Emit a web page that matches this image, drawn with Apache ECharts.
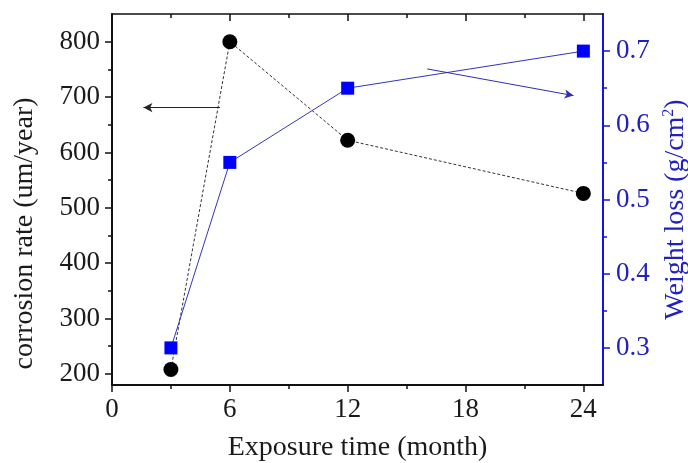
<!DOCTYPE html>
<html>
<head>
<meta charset="utf-8">
<script src="https://cdn.jsdelivr.net/npm/echarts@6/dist/echarts.min.js"></script>
<style>
  html, body { margin: 0; padding: 0; background: #fff; }
  #main { width: 688px; height: 463px; }
</style>
</head>
<body>
<div id="main"></div>
<script>
// exposure time (month)
var months = [3, 6, 12, 24];
// corrosion rate (um/year), left axis
var corrosionRate = [208, 800, 622, 526];
// weight loss (g/cm2), right axis
var weightLoss = [0.30, 0.55, 0.65, 0.70];

// tick values
var xMajor = [0, 6, 12, 18, 24];
var xMinor = [3, 9, 15, 21];
var leftMajor = [200, 300, 400, 500, 600, 700, 800];
var leftMinor = [250, 350, 450, 550, 650, 750];
var rightMajor = [0.3, 0.4, 0.5, 0.6, 0.7];
var rightMinor = [0.35, 0.45, 0.55, 0.65];

// annotation arrows (data coords)
var leftArrow = [[5.5, 681], [1.6, 681]];
var rightArrow = [[16.05, 0.676], [23.5, 0.640]];

var FONT = 'Liberation Serif';
var BLUE_AXIS = '#1414d8';
var BLUE_TEXT = '#2121bc';

function pairs(xs, ys) {
    return xs.map(function (x, i) { return [x, ys[i]]; });
}

function tickAxis(base, extra) {
    var o = {
        type: 'value', gridIndex: 0,
        axisLabel: { show: false },
        splitLine: { show: false },
        axisLine: { show: false, onZero: false }
    };
    for (var k in base) o[k] = base[k];
    for (var j in extra) o[j] = extra[j];
    return o;
}

var xBase = { min: 0, max: 25 };
var yLeftBase = { min: 180, max: 850 };
var yRightBase = { min: 0.25, max: 0.75 };

var option = {
    animation: false,
    backgroundColor: '#fff',
    grid: { left: 112, top: 14, right: 85, bottom: 78, outerBoundsMode: 'none', containLabel: false },
    xAxis: [
        {
            type: 'value', min: 0, max: 25, position: 'bottom',
            name: 'Exposure time (month)', nameLocation: 'middle', nameGap: 49,
            nameTextStyle: { fontFamily: FONT, fontSize: 28, color: '#1a1a1a' },
            axisLine: { show: true, onZero: false, lineStyle: { color: '#111', width: 2 } },
            axisTick: { show: true, inside: false, length: 7, customValues: xMajor, lineStyle: { color: '#111', width: 1.5 } },
            axisLabel: { customValues: xMajor, margin: 11, fontFamily: FONT, fontSize: 27, color: '#1a1a1a' },
            splitLine: { show: false }
        },
        tickAxis(xBase, { position: 'bottom', axisTick: { show: true, length: 4, customValues: xMinor, lineStyle: { color: '#111', width: 1.5 } } }),
        tickAxis(xBase, { position: 'top', axisLine: { show: true, onZero: false, lineStyle: { color: '#111', width: 1.5 } },
            axisTick: { show: true, inside: true, length: 7, customValues: xMajor, lineStyle: { color: '#111', width: 1.5 } } }),
        tickAxis(xBase, { position: 'top', axisTick: { show: true, inside: true, length: 4, customValues: xMinor, lineStyle: { color: '#111', width: 1.5 } } })
    ],
    yAxis: [
        {
            type: 'value', min: 180, max: 850, position: 'left',
            name: 'corrosion rate (um/year)', nameLocation: 'middle', nameGap: 73, nameRotate: 90,
            nameTextStyle: { fontFamily: FONT, fontSize: 28, color: '#1a1a1a', padding: [0, 68, 0, 0] },
            axisLine: { show: true, onZero: false, lineStyle: { color: '#111', width: 2 } },
            axisTick: { show: true, length: 7, customValues: leftMajor, lineStyle: { color: '#111', width: 1.5 } },
            axisLabel: { customValues: leftMajor, margin: 12, fontFamily: FONT, fontSize: 27, color: '#1a1a1a' },
            splitLine: { show: false }
        },
        {
            type: 'value', min: 0.25, max: 0.75, position: 'right',
            name: 'Weight loss (g/cm{sup|2})', nameLocation: 'middle', nameGap: 44, nameRotate: 90,
            nameTextStyle: {
                fontFamily: FONT, fontSize: 28, color: BLUE_TEXT, padding: [0, 20, 0, 0],
                rich: { sup: { fontFamily: FONT, fontSize: 16, color: BLUE_TEXT, verticalAlign: 'top', padding: [0, 0, 14, 0] } }
            },
            axisLine: { show: true, onZero: false, lineStyle: { color: BLUE_AXIS, width: 2 } },
            axisTick: { show: true, length: 7, customValues: rightMajor, lineStyle: { color: BLUE_AXIS, width: 1.5 } },
            axisLabel: {
                customValues: rightMajor, margin: 13, fontFamily: FONT, fontSize: 27, color: BLUE_TEXT,
                formatter: function (v) { return v.toFixed(1); }
            },
            splitLine: { show: false }
        },
        tickAxis(yLeftBase, { position: 'left', axisTick: { show: true, length: 4, customValues: leftMinor, lineStyle: { color: '#111', width: 1.5 } } }),
        tickAxis(yRightBase, { position: 'right', axisTick: { show: true, length: 4, customValues: rightMinor, lineStyle: { color: BLUE_AXIS, width: 1.5 } } })
    ],
    series: [
        {
            name: 'corrosion rate',
            type: 'line',
            xAxisIndex: 0, yAxisIndex: 0,
            data: pairs(months, corrosionRate),
            symbol: 'circle', symbolSize: 15,
            itemStyle: { color: '#000' },
            lineStyle: { color: '#333', width: 1, type: [3, 2] },
            z: 3,
            markLine: {
                silent: true, animation: false,
                symbol: ['none', 'arrow'], symbolSize: [7, 9],
                label: { show: false },
                lineStyle: { color: '#222', width: 1, type: 'solid' },
                data: [[{ coord: leftArrow[0] }, { coord: leftArrow[1] }]]
            }
        },
        {
            name: 'weight loss',
            type: 'line',
            xAxisIndex: 0, yAxisIndex: 1,
            data: pairs(months, weightLoss),
            symbol: 'rect', symbolSize: 13,
            itemStyle: { color: '#0000ff' },
            lineStyle: { color: '#3535b8', width: 1 },
            z: 4,
            markLine: {
                silent: true, animation: false,
                symbol: ['none', 'arrow'], symbolSize: [7, 9],
                label: { show: false },
                lineStyle: { color: '#2f2fb0', width: 1, type: 'solid' },
                data: [[{ coord: rightArrow[0] }, { coord: rightArrow[1] }]]
            }
        }
    ]
};

var chart = echarts.init(document.getElementById('main'), null, { renderer: 'canvas' });
chart.setOption(option);
</script>
</body>
</html>
